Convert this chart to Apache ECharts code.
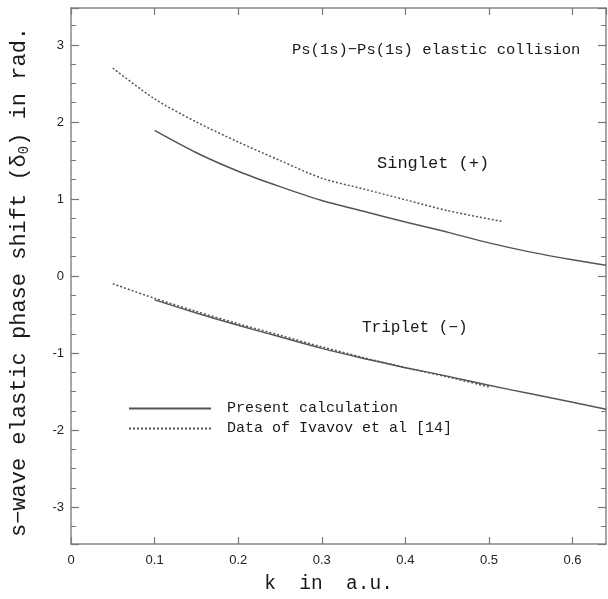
<!DOCTYPE html>
<html>
<head>
<meta charset="utf-8">
<script src="https://cdn.jsdelivr.net/npm/echarts@6/dist/echarts.min.js"></script>
<style>html,body{margin:0;padding:0;background:#fff}#c{width:608px;height:599px}</style>
</head>
<body>
<div id="c"></div>
<script>
// Data (k in a.u., phase shift in rad)
const singletPresentK = [0.10, 0.15, 0.20, 0.25, 0.30, 0.35, 0.40, 0.45, 0.50, 0.55, 0.60, 0.64];
const singletPresentV = [1.89, 1.60, 1.36, 1.16, 0.98, 0.84, 0.70, 0.57, 0.43, 0.31, 0.21, 0.14];
const singletIvanovK = [0.05, 0.10, 0.15, 0.20, 0.25, 0.30, 0.35, 0.40, 0.45, 0.515];
const singletIvanovV = [2.70, 2.30, 2.00, 1.74, 1.50, 1.27, 1.13, 0.99, 0.85, 0.71];
const tripletPresentK = [0.10, 0.15, 0.20, 0.25, 0.30, 0.35, 0.40, 0.45, 0.50, 0.55, 0.60, 0.64];
const tripletPresentV = [-0.31, -0.48, -0.64, -0.79, -0.94, -1.07, -1.19, -1.30, -1.42, -1.53, -1.64, -1.73];
const tripletIvanovK = [0.05, 0.10, 0.15, 0.20, 0.25, 0.30, 0.35, 0.40, 0.45, 0.50];
const tripletIvanovV = [-0.10, -0.29, -0.46, -0.62, -0.77, -0.92, -1.06, -1.19, -1.31, -1.44];
const xTicks = [0, 0.1, 0.2, 0.3, 0.4, 0.5, 0.6];
const seriesNames = ['Present calculation', 'Data of Ivavov et al [14]'];

const pair = (ks, vs) => ks.map((k, i) => [k, vs[i]]);
const lineColor = '#555';
const mono = 'Liberation Mono';

const chart = echarts.init(document.getElementById('c'), null, {renderer: 'canvas'});
const solid = {color: lineColor, width: 1.5, type: 'solid'};
const dotted = {color: lineColor, width: 1.5, type: [2, 2]};

function mkSeries(name, data, style) {
  return {type: 'line', name, data, symbol: 'none', smooth: 0.3, lineStyle: style, itemStyle: {color: lineColor}, animation: false, z: 3};
}

const axisLine = {show: true, onZero: false, lineStyle: {color: '#888', width: 1.5}};
chart.setOption({
  animation: false,
  grid: {left: 71, right: 2, top: 8, bottom: 52},
  xAxis: [
    {type: 'value', min: 0, max: 0.64, interval: 0.1, position: 'bottom',
     axisLine, splitLine: {show: false},
     axisTick: {inside: true, length: 7, lineStyle: {color: '#777', width: 1.2}},
     axisLabel: {color: '#222', fontSize: 13, fontFamily: 'Liberation Sans', margin: 10, showMaxLabel: false,
       formatter: v => xTicks.includes(Math.round(v * 10) / 10) ? String(Math.round(v * 10) / 10) : ''},
     name: 'k  in  a.u.', nameLocation: 'middle', nameGap: 30,
     nameTextStyle: {fontFamily: mono, fontSize: 19.5, color: '#1a1a1a', padding: [0, 20, 0, 0]}},
    {type: 'value', min: 0, max: 0.64, interval: 0.1, position: 'top',
     axisLine, splitLine: {show: false}, axisLabel: {show: false},
     axisTick: {inside: true, length: 7, lineStyle: {color: '#777', width: 1.2}}}
  ],
  yAxis: [
    {type: 'value', min: -3.48, max: 3.48, splitNumber: 7, position: 'left',
     axisLine, splitLine: {show: false},
     axisTick: {inside: true, length: 8, lineStyle: {color: '#777', width: 1.2}},
     minorTick: {show: true, splitNumber: 4, length: 5, lineStyle: {color: '#777', width: 1}},
     axisLabel: {color: '#222', fontSize: 13, fontFamily: 'Liberation Sans', margin: 7,
       formatter: v => Number.isInteger(v) ? String(v) : ''},
     name: '{a|s\u2212wave elastic phase shift (\u03b4}{s|0}{a|) in rad.}', nameLocation: 'middle', nameGap: 40,
     nameTextStyle: {padding: [0, 12, 0, 0], rich: {a: {fontFamily: mono, fontSize: 22, color: '#1a1a1a'}, s: {fontFamily: mono, fontSize: 14, color: '#1a1a1a', verticalAlign: 'bottom', padding: [10, 0, 0, 0]}}}},
    {type: 'value', min: -3.48, max: 3.48, splitNumber: 7, position: 'right',
     axisLine, splitLine: {show: false}, axisLabel: {show: false},
     axisTick: {inside: true, length: 8, lineStyle: {color: '#777', width: 1.2}},
     minorTick: {show: true, splitNumber: 4, length: 5, lineStyle: {color: '#777', width: 1}}}
  ],
  legend: {
    data: [{name: seriesNames[0]}, {name: seriesNames[1]}],
    orient: 'vertical', left: 123, top: 396, itemWidth: 82, itemHeight: 15, itemGap: 5,
    selectedMode: false,
    itemStyle: {opacity: 0},
    textStyle: {fontFamily: mono, fontSize: 15, color: '#1a1a1a', padding: [0, 0, 0, 11]}
  },
  series: [
    mkSeries(seriesNames[0], pair(singletPresentK, singletPresentV), solid),
    mkSeries(seriesNames[1], pair(singletIvanovK, singletIvanovV), dotted),
    mkSeries(seriesNames[0], pair(tripletPresentK, tripletPresentV), solid),
    mkSeries(seriesNames[1], pair(tripletIvanovK, tripletIvanovV), dotted)
  ],
  graphic: [
    {type: 'text', left: 292, top: 42, style: {text: 'Ps(1s)\u2212Ps(1s) elastic collision', font: '15.5px "Liberation Mono"', fill: '#1a1a1a'}},
    {type: 'text', left: 377, top: 155, style: {text: 'Singlet (+)', font: '17px "Liberation Mono"', fill: '#1a1a1a'}},
    {type: 'text', left: 362, top: 320, style: {text: 'Triplet (\u2212)', font: '16px "Liberation Mono"', fill: '#1a1a1a'}}
  ]
});
</script>
</body>
</html>
